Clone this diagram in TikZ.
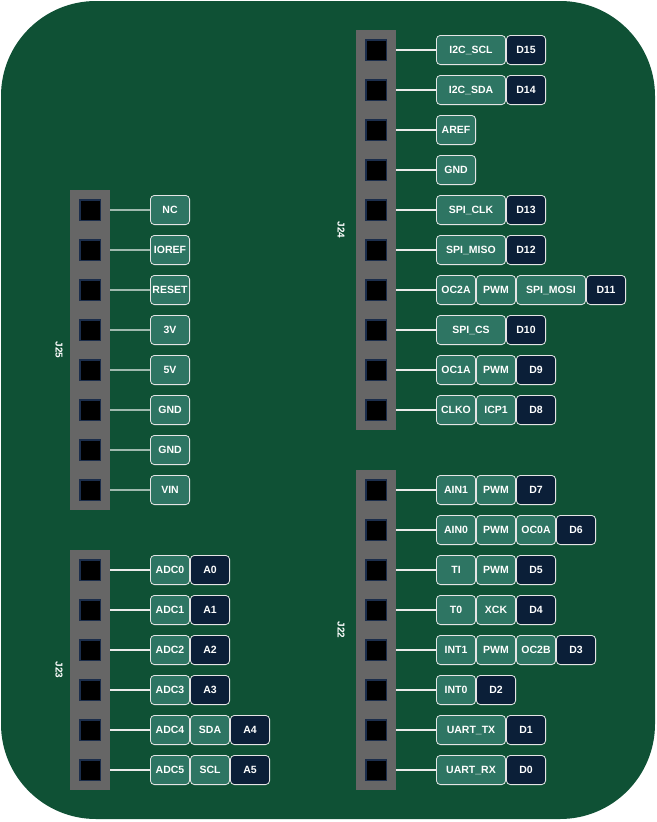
\documentclass[tikz,border=0pt]{standalone}
\usepackage{fontspec}
\setmainfont{Liberation Sans}
\definecolor{board}{HTML}{0F5135}
\definecolor{tealbox}{HTML}{2E7563}
\definecolor{navybox}{HTML}{0B1F38}
\definecolor{hdrgray}{HTML}{666666}
\definecolor{pinedge}{HTML}{1B2D4B}
\tikzset{
  hdr/.style={fill=hdrgray, minimum width=40pt, inner sep=0pt, draw=none},
  pinsq/.style={fill=black, draw=pinedge, line width=1.5pt, minimum size=20.5pt, inner sep=0pt},
  lbl/.style={draw=white!90!black, fill=tealbox, rounded corners=4pt, minimum height=29.2pt,
    inner sep=0pt, outer sep=0pt, text=white, font=\bfseries\fontsize{10.5}{12}\selectfont,
    text height=7.5pt, text depth=0pt, line width=0.8pt, anchor=west},
  dk/.style={lbl, fill=navybox},
  wa/.style={minimum width=39.2pt},
  wb/.style={minimum width=69.2pt},
  wire/.style={draw=white!92!black, line width=1.2pt},
  wiredim/.style={draw=white!60!board, line width=1.2pt},
  jlbl/.style={text=white, font=\bfseries\fontsize{10}{11}\selectfont, rotate=-90, inner sep=0pt}
}
\begin{document}
\begin{tikzpicture}[x=1pt,y=-1pt]
\useasboundingbox (0,0) rectangle (656,822);
\fill[board, rounded corners=95pt] (1,1) rectangle (655,819);

% ---------- J25 ----------
\node[hdr, minimum height=320pt] (J25) at (90,350) {};
\node[jlbl] (J25t) at (59,350) {J25};
\foreach \t [count=\i] in {NC,IOREF,RESET,3V,5V,GND,GND,VIN} {
  \node[pinsq] (a\i) at (90,170+40*\i) {};
  \node[lbl,wa] (a\i l) at (150.4,170+40*\i) {\t};
  \draw[wiredim] (a\i -| J25.east) -- (a\i l.west);
}

% ---------- J23 ----------
\node[hdr, minimum height=240pt] (J23) at (90,670) {};
\node[jlbl] (J23t) at (59,670) {J23};
\foreach \t/\u [count=\i] in {ADC0/A0,ADC1/A1,ADC2/A2,ADC3/A3} {
  \node[pinsq] (b\i) at (90,530+40*\i) {};
  \node[lbl,wa] (b\i l) at (150.4,530+40*\i) {\t};
  \node[dk,wa] (b\i d) at ([xshift=0.8pt]b\i l.east) {\u};
  \draw[wire] (b\i -| J23.east) -- (b\i l.west);
}
\node[pinsq] (b5) at (90,730) {};
\node[lbl,wa] (b5l) at (150.4,730) {ADC4};
\node[lbl,wa] (b5m) at ([xshift=0.8pt]b5l.east) {SDA};
\node[dk,wa] (b5d) at ([xshift=0.8pt]b5m.east) {A4};
\draw[wire] (b5 -| J23.east) -- (b5l.west);
\node[pinsq] (b6) at (90,770) {};
\node[lbl,wa] (b6l) at (150.4,770) {ADC5};
\node[lbl,wa] (b6m) at ([xshift=0.8pt]b6l.east) {SCL};
\node[dk,wa] (b6d) at ([xshift=0.8pt]b6m.east) {A5};
\draw[wire] (b6 -| J23.east) -- (b6l.west);

% ---------- J24 ----------
\node[hdr, minimum height=400pt] (J24) at (376,230) {};
\node[jlbl] (J24t) at (341,230) {J24};
\foreach \i in {1,...,10} { \node[pinsq] (c\i) at (376,10+40*\i) {}; }
\node[lbl,wb] (c1l) at (436.4,50) {I2C\_SCL};
\node[dk,wa] (c1d) at ([xshift=0.8pt]c1l.east) {D15};
\node[lbl,wb] (c2l) at (436.4,90) {I2C\_SDA};
\node[dk,wa] (c2d) at ([xshift=0.8pt]c2l.east) {D14};
\node[lbl,wa] (c3l) at (436.4,130) {AREF};
\node[lbl,wa] (c4l) at (436.4,170) {GND};
\node[lbl,wb] (c5l) at (436.4,210) {SPI\_CLK};
\node[dk,wa] (c5d) at ([xshift=0.8pt]c5l.east) {D13};
\node[lbl,wb] (c6l) at (436.4,250) {SPI\_MISO};
\node[dk,wa] (c6d) at ([xshift=0.8pt]c6l.east) {D12};
\node[lbl,wa] (c7l) at (436.4,290) {OC2A};
\node[lbl,wa] (c7m) at ([xshift=0.8pt]c7l.east) {PWM};
\node[lbl,wb] (c7n) at ([xshift=0.8pt]c7m.east) {SPI\_MOSI};
\node[dk,wa] (c7d) at ([xshift=0.8pt]c7n.east) {D11};
\node[lbl,wb] (c8l) at (436.4,330) {SPI\_CS};
\node[dk,wa] (c8d) at ([xshift=0.8pt]c8l.east) {D10};
\node[lbl,wa] (c9l) at (436.4,370) {OC1A};
\node[lbl,wa] (c9m) at ([xshift=0.8pt]c9l.east) {PWM};
\node[dk,wa] (c9d) at ([xshift=0.8pt]c9m.east) {D9};
\node[lbl,wa] (c10l) at (436.4,410) {CLKO};
\node[lbl,wa] (c10m) at ([xshift=0.8pt]c10l.east) {ICP1};
\node[dk,wa] (c10d) at ([xshift=0.8pt]c10m.east) {D8};
\foreach \i in {1,...,10} { \draw[wire] (c\i -| J24.east) -- (c\i l.west); }

% ---------- J22 ----------
\node[hdr, minimum height=320pt] (J22) at (376,630) {};
\node[jlbl] (J22t) at (341,630) {J22};
\foreach \i in {1,...,8} { \node[pinsq] (d\i) at (376,450+40*\i) {}; }
\node[lbl,wa] (d1l) at (436.4,490) {AIN1};
\node[lbl,wa] (d1m) at ([xshift=0.8pt]d1l.east) {PWM};
\node[dk,wa] (d1d) at ([xshift=0.8pt]d1m.east) {D7};
\node[lbl,wa] (d2l) at (436.4,530) {AIN0};
\node[lbl,wa] (d2m) at ([xshift=0.8pt]d2l.east) {PWM};
\node[lbl,wa] (d2n) at ([xshift=0.8pt]d2m.east) {OC0A};
\node[dk,wa] (d2d) at ([xshift=0.8pt]d2n.east) {D6};
\node[lbl,wa] (d3l) at (436.4,570) {TI};
\node[lbl,wa] (d3m) at ([xshift=0.8pt]d3l.east) {PWM};
\node[dk,wa] (d3d) at ([xshift=0.8pt]d3m.east) {D5};
\node[lbl,wa] (d4l) at (436.4,610) {T0};
\node[lbl,wa] (d4m) at ([xshift=0.8pt]d4l.east) {XCK};
\node[dk,wa] (d4d) at ([xshift=0.8pt]d4m.east) {D4};
\node[lbl,wa] (d5l) at (436.4,650) {INT1};
\node[lbl,wa] (d5m) at ([xshift=0.8pt]d5l.east) {PWM};
\node[lbl,wa] (d5n) at ([xshift=0.8pt]d5m.east) {OC2B};
\node[dk,wa] (d5d) at ([xshift=0.8pt]d5n.east) {D3};
\node[lbl,wa] (d6l) at (436.4,690) {INT0};
\node[dk,wa] (d6d) at ([xshift=0.8pt]d6l.east) {D2};
\node[lbl,wb] (d7l) at (436.4,730) {UART\_TX};
\node[dk,wa] (d7d) at ([xshift=0.8pt]d7l.east) {D1};
\node[lbl,wb] (d8l) at (436.4,770) {UART\_RX};
\node[dk,wa] (d8d) at ([xshift=0.8pt]d8l.east) {D0};
\foreach \i in {1,...,8} { \draw[wire] (d\i -| J22.east) -- (d\i l.west); }
\end{tikzpicture}
\end{document}
